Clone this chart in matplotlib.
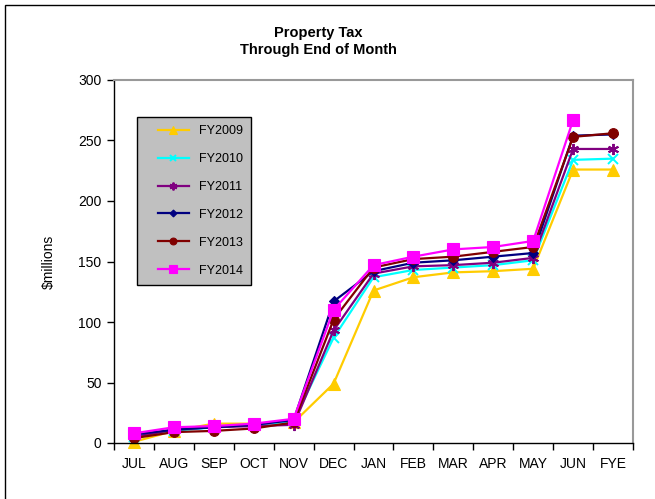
import numpy as np
import matplotlib
matplotlib.use("Agg")
import matplotlib.pyplot as plt
from matplotlib.patches import Rectangle
from matplotlib.legend_handler import HandlerLine2D
from matplotlib.lines import Line2D

plt.rcParams['font.family'] = ['Liberation Sans', 'DejaVu Sans']

months = ["JUL", "AUG", "SEP", "OCT", "NOV", "DEC", "JAN", "FEB", "MAR", "APR", "MAY", "JUN", "FYE"]

fy2009 = [1, 10, 16, 16, 17, 49, 126, 137, 141, 142, 144, 226, 226]
fy2010 = [5, 10, 13, 15, 18, 87, 137, 143, 145, 147, 151, 234, 235]
fy2011 = [5, 11, 13, 14, 15, 93, 140, 146, 147, 149, 153, 243, 243]
fy2012 = [7, 11, 13, 15, 19, 117, 142, 149, 151, 154, 157, 254, 255]
fy2013 = [4, 9, 10, 12, 17, 102, 145, 152, 154, 158, 162, 253, 256]
fy2014 = [8, 13, 14, 16, 20, 110, 147, 154, 160, 162, 167, 267, np.nan]

series = [
    ("FY2009", fy2009, "#FFCC00", "^", 8),
    ("FY2010", fy2010, "#00FFFF", "x", 7),
    ("FY2011", fy2011, "#800080", (6, 2, 0), 8),
    ("FY2012", fy2012, "#000080", "D", 5),
    ("FY2013", fy2013, "#800000", "o", 7),
    ("FY2014", fy2014, "#FF00FF", "s", 8),
]

fig = plt.figure(figsize=(6.55, 4.99), dpi=100)
ax = fig.add_axes([114 / 655, 1 - 443 / 499, (633 - 114) / 655, (443 - 80) / 499])

x = np.arange(len(months))
for name, vals, color, marker, ms in series:
    ax.plot(x, vals, color=color, lw=1.6, marker=marker, markersize=ms,
            markeredgewidth=1.4 if marker in ("x", (6, 2, 0)) else 0.8,
            markeredgecolor=color, markerfacecolor=color, label=name, clip_on=False)

ax.set_xlim(-0.5, len(months) - 0.5)
ax.set_ylim(0, 300)
ax.set_yticks(np.arange(0, 301, 50))
ax.set_xticks(x)
ax.set_xticklabels(months)
ax.set_xticks(np.arange(-0.5, len(months), 1), minor=True)
ax.tick_params(axis="x", which="major", length=0, pad=10, labelsize=10)
ax.tick_params(axis="x", which="minor", length=5, width=1, direction="out")
ax.tick_params(axis="y", length=5, width=1, direction="out", labelsize=10, pad=4)

for side in ("left", "bottom"):
    ax.spines[side].set_color("black")
    ax.spines[side].set_linewidth(1.0)
for side in ("top", "right"):
    ax.spines[side].set_color("#999999")
    ax.spines[side].set_linewidth(1.5)

ax.set_ylabel("$millions", fontsize=10, labelpad=16)

leg = ax.legend(loc="upper left", bbox_to_anchor=((137 - 114) / 519, (443 - 117) / 363),
                frameon=True, fancybox=False, fontsize=9, handlelength=3.5,
                handletextpad=0.8, labelspacing=1.27, borderpad=0.65,
                borderaxespad=0, markerscale=0.7,
                handler_map={Line2D: HandlerLine2D(numpoints=1, xpad=1.0)})
leg.get_frame().set_facecolor("#C0C0C0")
leg.get_frame().set_edgecolor("black")
leg.get_frame().set_linewidth(1.0)
leg.get_frame().set_alpha(1)

fig.text(318 / 655, 1 - 33 / 499, "Property Tax", ha="center", va="center",
         fontsize=10.5, fontweight="bold")
fig.text(318 / 655, 1 - 50 / 499, "Through End of Month", ha="center", va="center",
         fontsize=10.5, fontweight="bold")

# outer chart border (continues past the right and bottom edges)
fig.patches.append(Rectangle((4.5 / 655, -0.1), 2, 1.1 - 4.5 / 499, transform=fig.transFigure,
                             fill=False, edgecolor="black", lw=1.0))

fig.savefig("out.png", dpi=100)
